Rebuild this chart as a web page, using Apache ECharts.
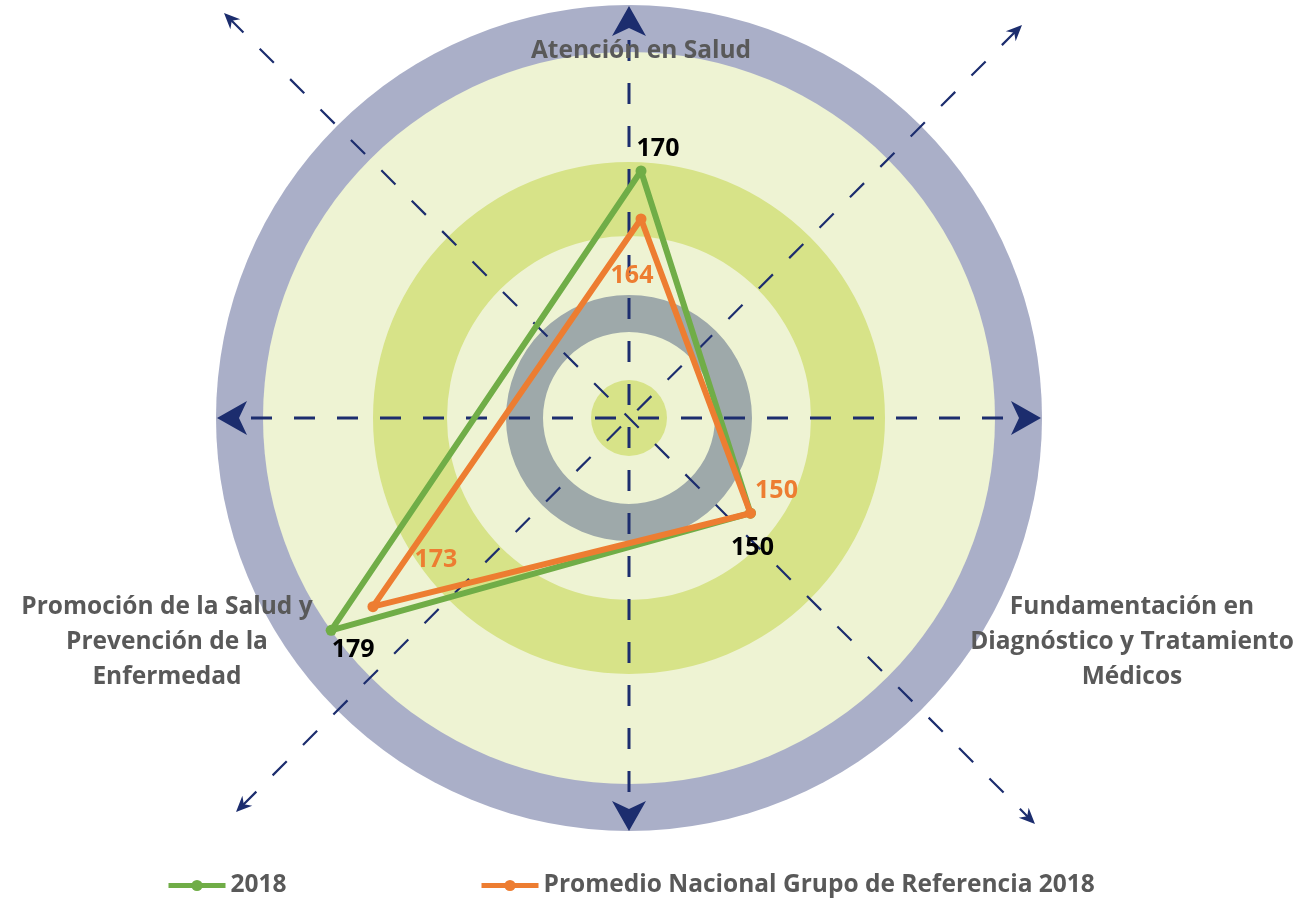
<!DOCTYPE html>
<html>
<head>
<meta charset="utf-8">
<script src="https://cdn.jsdelivr.net/npm/echarts@6/dist/echarts.min.js"></script>
<style>
  html, body { margin: 0; padding: 0; background: #fff; }
  #chart-container { width: 1297px; height: 898px; }
</style>
</head>
<body>
<div id="chart-container"></div>
<script>
// data
const categories = [
    'Atención en Salud',
    'Fundamentación en\nDiagnóstico y Tratamiento\nMédicos',
    'Promoción de la Salud y\nPrevención de la\nEnfermedad'
]
const seriesNames = ['2018', 'Promedio Nacional Grupo de Referencia 2018']
const values2018 = [170, 150, 179]
const valuesPromedio = [164, 150, 173]

// layout (not data)
const axisAngles = [0, 118, 240.5]
const offsets2018 = [[17, -22], [2, 35], [22, 20]]
const offsetsPromedio = [[-9, 57], [26, -22], [63, -47]]
const namePos = [[641, 51], [1132, 642], [167, 642]]

const CX = 629, CY = 418
const navy = '#1c2d6e'
const greyText = '#595959'
const font = '"Open Sans", "Noto Sans", sans-serif'

const buildData = (values, offsets) => {
    const pts = values.map((v, i) => ({
        value: [v, axisAngles[i]],
        label: { offset: offsets[i] }
    }))
    // close the polygon
    pts.push({ value: [values[0], 360], symbol: 'none', label: { show: false } })
    return pts
}

const arrowHead = (tx, ty, dx, dy, len, half, notch) => {
    const bx = tx - dx * len, by = ty - dy * len
    const nx = -dy, ny = dx
    return {
        type: 'polygon', z: 1,
        shape: { points: [[tx, ty], [bx + nx * half, by + ny * half], [tx - dx * notch, ty - dy * notch], [bx - nx * half, by - ny * half]] },
        style: { fill: navy }
    }
}

const dashedLine = (x1, y1, x2, y2, width, dash, offset) => ({
    type: 'line', z: 1,
    shape: { x1, y1, x2, y2 },
    style: { stroke: navy, lineWidth: width, lineDash: dash, lineDashOffset: offset }
})

const background = [
    { type: 'circle', z: 0, shape: { cx: CX, cy: CY, r: 413 }, style: { fill: '#aaafc8' } },
    { type: 'circle', z: 0, shape: { cx: CX, cy: CY, r: 366 }, style: { fill: '#eef3d3' } },
    { type: 'ring', z: 0, shape: { cx: CX, cy: CY, r: 256, r0: 182 }, style: { fill: '#d7e388' } },
    { type: 'ring', z: 0, shape: { cx: CX, cy: CY, r: 123, r0: 86 }, style: { fill: '#9ea9aa' } },
    { type: 'circle', z: 0, shape: { cx: CX, cy: CY, r: 38 }, style: { fill: '#d7e388' } }
]

const s2 = Math.SQRT1_2
const axes = [
    dashedLine(240, CY, 1018, CY, 3, [21, 22], 32),
    dashedLine(CX, 30, CX, 808, 3, [21, 22], 33),
    dashedLine(230, 19, 1029, 818, 2.2, [20, 23], 1),
    dashedLine(1016, 31, 242, 806, 2.2, [20, 23], 0),
    arrowHead(217, CY, -1, 0, 30, 17, 22),
    arrowHead(1041, CY, 1, 0, 30, 17, 22),
    arrowHead(CX, 6, 0, -1, 30, 17, 22),
    arrowHead(CX, 831, 0, 1, 30, 17, 22),
    arrowHead(224, 13, -s2, -s2, 16, 7, 11),
    arrowHead(1035, 824, s2, s2, 16, 7, 11),
    arrowHead(1022, 25, s2, -s2, 16, 7, 11),
    arrowHead(236, 812, -s2, s2, 16, 7, 11)
]

const names = categories.map((c, i) => ({
    type: 'text', z: 3,
    x: namePos[i][0], y: namePos[i][1],
    style: {
        text: c, fill: greyText,
        font: 'bold 24.5px ' + font,
        fontSize: 24.5, fontWeight: 'bold', fontFamily: font,
        align: 'center', verticalAlign: 'middle',
        textAlign: 'center', textVerticalAlign: 'middle',
        lineHeight: 35
    }
}))

const myChart = echarts.init(document.getElementById('chart-container'))
const legendBase = {
    top: 873,
    padding: 0,
    itemWidth: 57,
    itemHeight: 14,
    itemGap: 0,
    lineStyle: { width: 5 },
    textStyle: { fontSize: 24.5, fontWeight: 'bold', color: greyText, fontFamily: font }
}
const option = {
    animation: false,
    graphic: { elements: [...background, ...axes, ...names] },
    polar: { center: [641, 455], radius: 364 },
    angleAxis: { type: 'value', min: 0, max: 360, startAngle: 90, clockwise: true, show: false },
    radiusAxis: { type: 'value', min: 134.5, max: 180, show: false },
    legend: [
        { ...legendBase, left: 166, data: [seriesNames[0]] },
        { ...legendBase, left: 479, data: [seriesNames[1]] }
    ],
    series: [
        {
            name: seriesNames[0],
            type: 'line',
            coordinateSystem: 'polar',
            data: buildData(values2018, offsets2018),
            symbol: 'circle',
            symbolSize: 11,
            color: '#70ad47',
            lineStyle: { width: 6, color: '#70ad47' },
            itemStyle: { color: '#70ad47' },
            label: {
                show: true, position: 'inside',
                color: '#000', fontSize: 25, fontWeight: 'bold', fontFamily: font,
                formatter: p => p.value[0]
            },
            z: 3
        },
        {
            name: seriesNames[1],
            type: 'line',
            coordinateSystem: 'polar',
            data: buildData(valuesPromedio, offsetsPromedio),
            symbol: 'circle',
            symbolSize: 11,
            color: '#ed7d31',
            lineStyle: { width: 6, color: '#ed7d31' },
            itemStyle: { color: '#ed7d31' },
            label: {
                show: true, position: 'inside',
                color: '#ed7d31', fontSize: 25, fontWeight: 'bold', fontFamily: font,
                formatter: p => p.value[0]
            },
            z: 4
        }
    ]
}

option && myChart.setOption(option)
</script>
</body>
</html>
